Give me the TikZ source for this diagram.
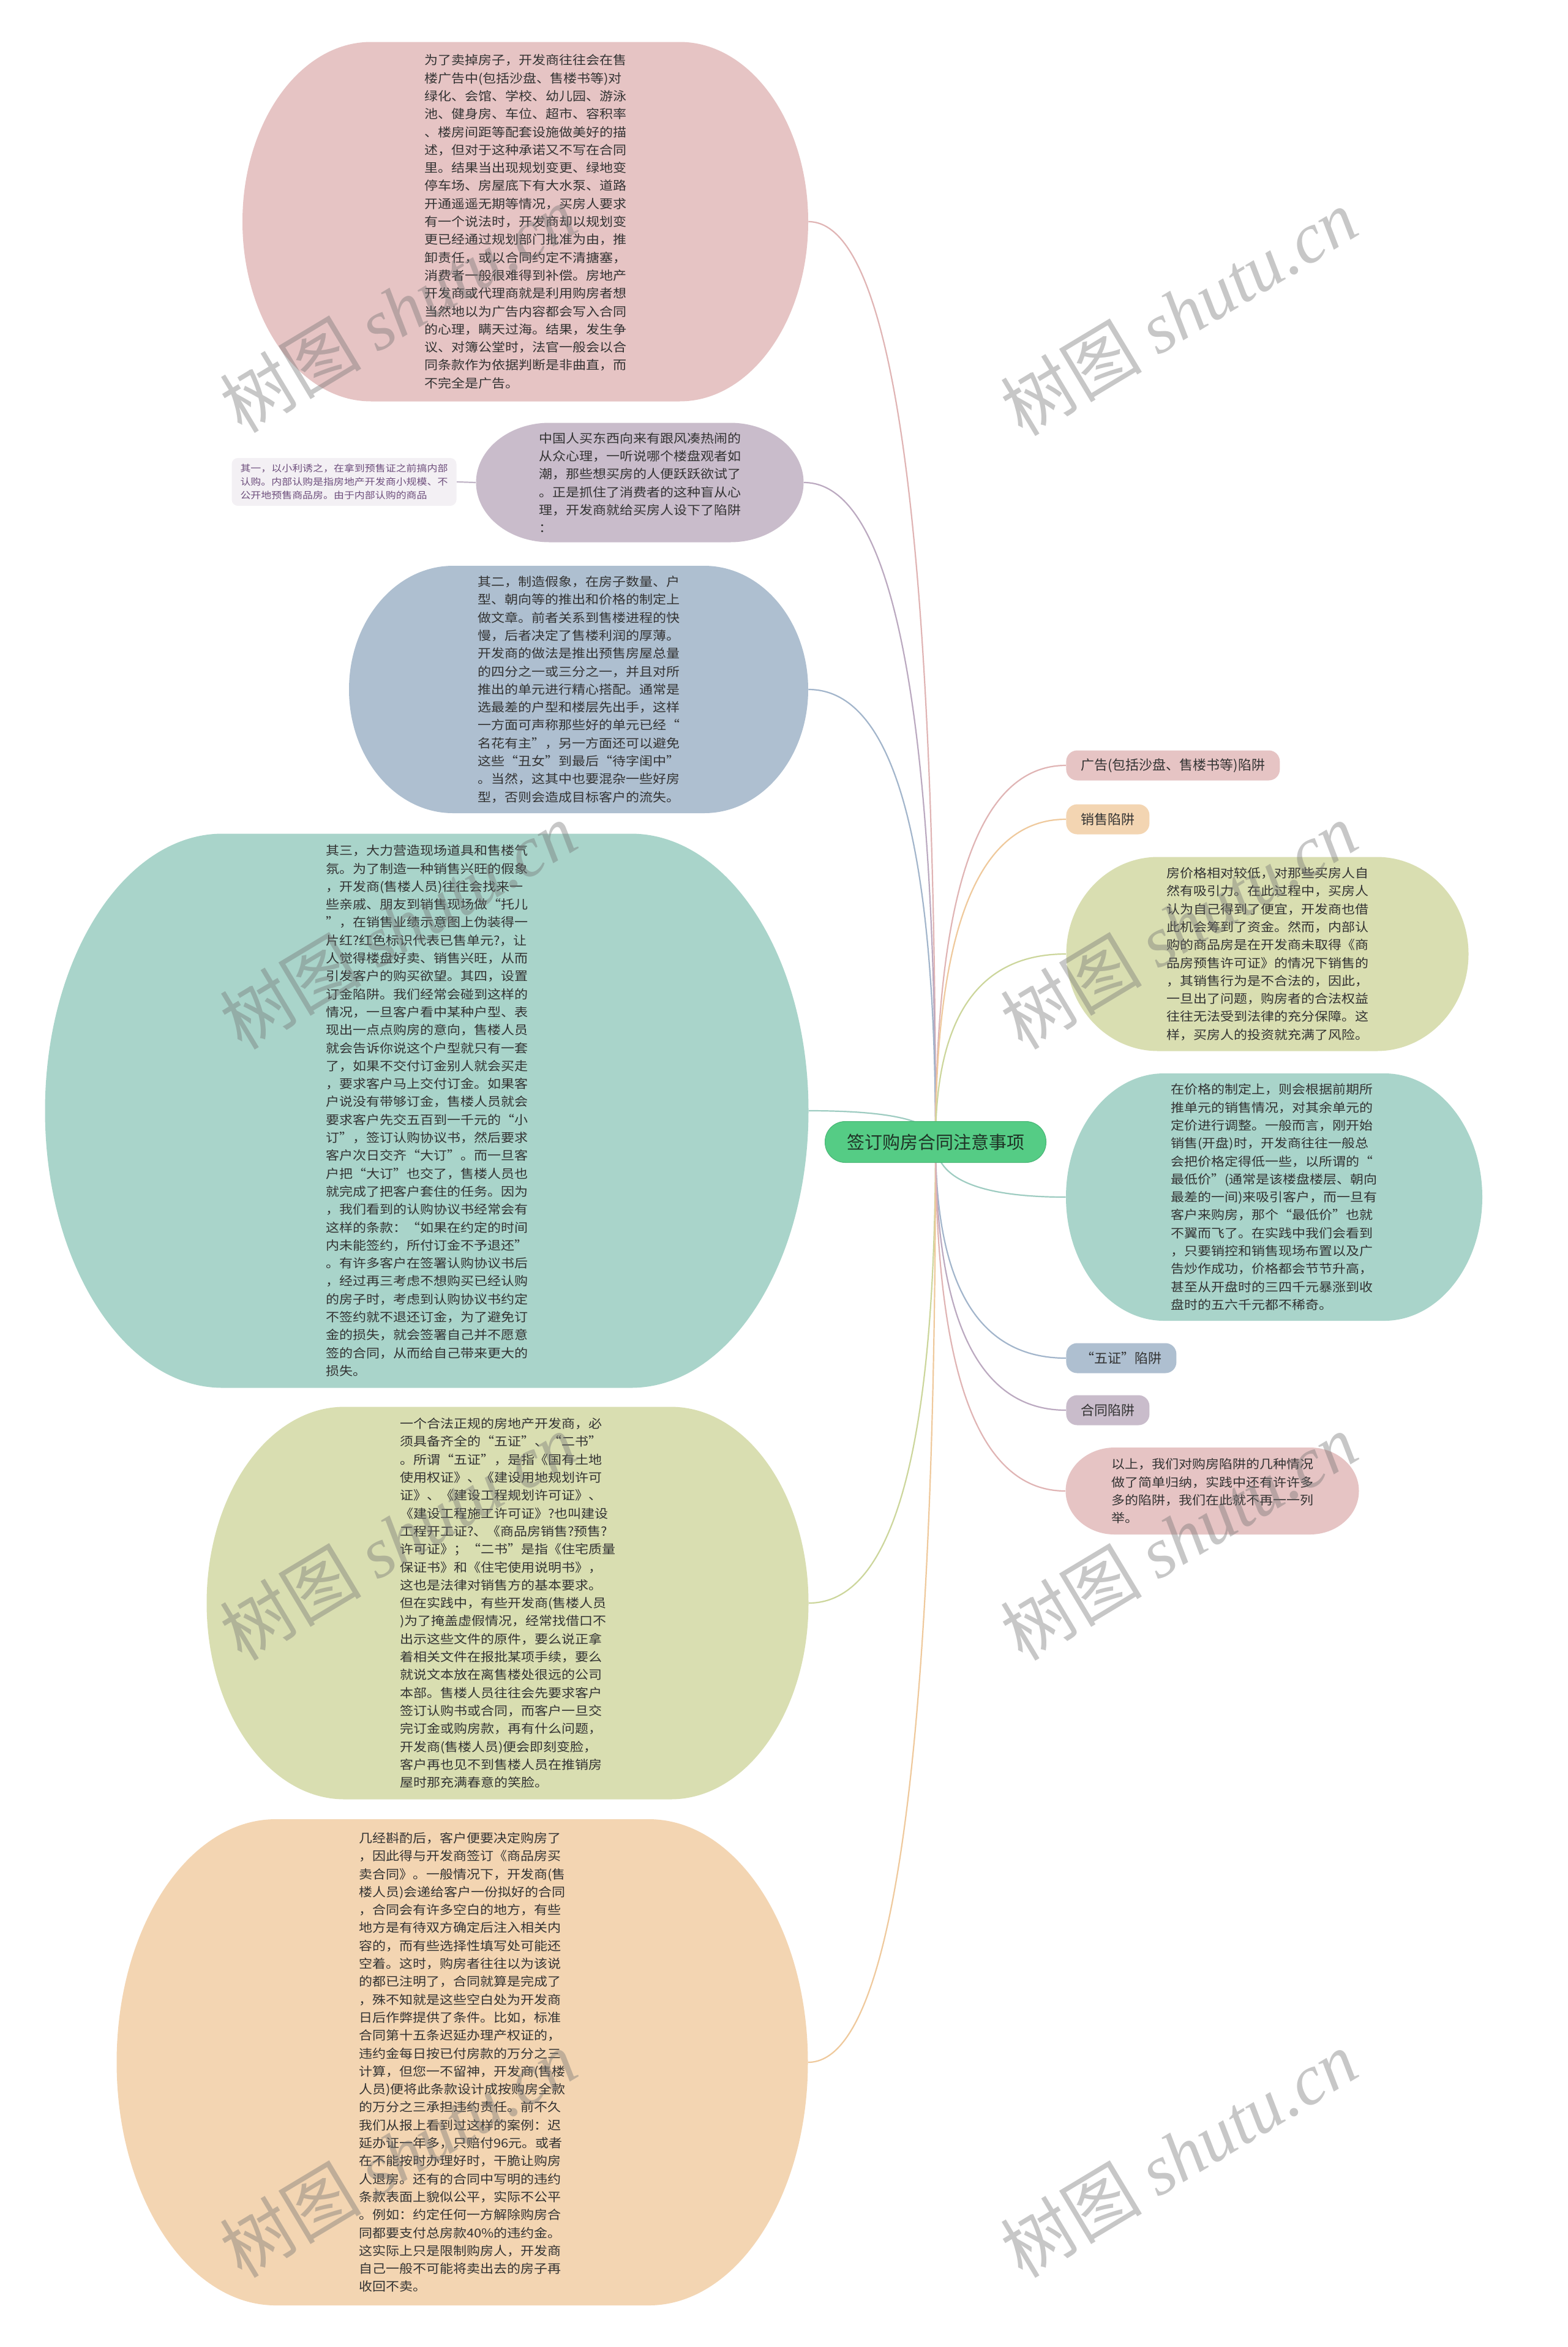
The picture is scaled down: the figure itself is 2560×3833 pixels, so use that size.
\documentclass[tikz,border=0pt]{standalone}
\usepackage{fontspec}
\newfontfamily\cjk{Noto Sans CJK SC}
\newfontfamily\cjkw[FakeStretch=1.1]{Noto Sans CJK SC}
\newfontfamily\cjkn[FakeStretch=1.13]{Noto Sans CJK SC}
\newfontfamily\wmlatin{Liberation Serif}
\usetikzlibrary{calc}
\pgfdeclarelayer{bg}
\pgfsetlayers{bg,main}

\definecolor{pinkF}{HTML}{E6C4C4}
\definecolor{pinkL}{HTML}{E0B4B4}
\definecolor{purpleF}{HTML}{C9BCCB}
\definecolor{purpleL}{HTML}{BBA9C0}
\definecolor{blueF}{HTML}{AEBFD0}
\definecolor{blueL}{HTML}{A2B5CB}
\definecolor{tealF}{HTML}{A9D4CA}
\definecolor{tealL}{HTML}{9ECCC1}
\definecolor{ygF}{HTML}{D9DEB1}
\definecolor{ygL}{HTML}{CCD69B}
\definecolor{orangeF}{HTML}{F3D5B2}
\definecolor{orangeL}{HTML}{EFC99C}
\definecolor{noteF}{HTML}{F3F0F4}
\definecolor{noteT}{HTML}{6E4F7D}
\definecolor{noteL}{HTML}{C2B6C8}
\definecolor{rootF}{HTML}{55CC85}
\definecolor{rootD}{HTML}{47B574}
\definecolor{rootT}{HTML}{1F3326}
\definecolor{txt}{HTML}{333333}

\tikzset{
  body/.style={font={\cjkw\fontsize{10}{14.65}\selectfont}, text=txt, align=left, inner sep=0pt},
  tagbox/.style={font={\cjk\fontsize{11}{13}\selectfont}, text=txt, rounded corners=9pt,
    minimum height=24.5pt, inner xsep=12pt, inner ysep=0pt, anchor=west},
  rootbox/.style={font={\cjk\fontsize{14.5}{17}\selectfont}, text=rootT, fill=rootF, draw=rootD,
    line width=0.5pt, rounded corners=16.5pt, minimum width=180.5pt, minimum height=33.5pt, inner sep=0pt},
  notebox/.style={font={\cjkn\fontsize{7.5}{11}\selectfont}, text=noteT, fill=noteF, rounded corners=5pt,
    minimum width=183.5pt, minimum height=39pt, inner sep=0pt, align=left},
  edge/.style={line width=1.1pt},
  wmark/.style={text=black!55, opacity=0.4, rotate=31, font={\cjk\fontsize{58}{62}\selectfont}, inner sep=0pt}
}

% elliptical-ended rounded box: cx cy w h rx colour
\newcommand\blobat[6]{%
  \fill[#6] ({#1-#3/2+#5},{#2-#4/2}) -- ({#1+#3/2-#5},{#2-#4/2})
    .. controls ({#1+#3/2-#5+0.5523*#5},{#2-#4/2}) and ({#1+#3/2},{#2-0.5523*#4/2}) .. ({#1+#3/2},{#2})
    .. controls ({#1+#3/2},{#2+0.5523*#4/2}) and ({#1+#3/2-#5+0.5523*#5},{#2+#4/2}) .. ({#1+#3/2-#5},{#2+#4/2})
    -- ({#1-#3/2+#5},{#2+#4/2})
    .. controls ({#1-#3/2+#5-0.5523*#5},{#2+#4/2}) and ({#1-#3/2},{#2+0.5523*#4/2}) .. ({#1-#3/2},{#2})
    .. controls ({#1-#3/2},{#2-0.5523*#4/2}) and ({#1-#3/2+#5-0.5523*#5},{#2-#4/2}) .. cycle;}

% name cx cy w h rx colour text
\newcommand\bnode[8]{%
  \begin{pgfonlayer}{bg}\blobat{#2}{#3}{#4}{#5}{#6}{#7}\end{pgfonlayer}%
  \node[body, minimum width={#4*0.5pt}, minimum height={#5*0.5pt}] (#1) at (#2,#3) {#8};}

% curved connector from root to target anchor
\newcommand\link[2]{%
  \draw[edge, #2] let \p1=(root.center), \p2=(#1) in
    (\p1) .. controls (\x1,{\y1+0.6667*(\y2-\y1)}) and ({\x2+0.6667*(\x1-\x2)},\y2) .. (\p2);}

\begin{document}
\begin{tikzpicture}[x=0.5pt,y=-0.5pt]
\begin{pgfonlayer}{bg}
\fill[white] (0,0) rectangle (2560,3833);
\end{pgfonlayer}
\useasboundingbox (0,0) rectangle (2560,3833);

% ---------- left side ----------
\bnode{L1}{858}{362}{924}{587}{210}{pinkF}{%
为了卖掉房子，开发商往往会在售\\
楼广告中(包括沙盘、售楼书等)对\\
绿化、会馆、学校、幼儿园、游泳\\
池、健身房、车位、超市、容积率\\
、楼房间距等配套设施做美好的描\\
述，但对于这种承诺又不写在合同\\
里。结果当出现规划变更、绿地变\\
停车场、房屋底下有大水泵、道路\\
开通遥遥无期等情况，买房人要求\\
有一个说法时，开发商却以规划变\\
更已经通过规划部门批准为由，推\\
卸责任，或以合同约定不清搪塞，\\
消费者一般很难得到补偿。房地产\\
开发商或代理商就是利用购房者想\\
当然地以为广告内容都会写入合同\\
的心理，瞒天过海。结果，发生争\\
议、对簿公堂时，法官一般会以合\\
同条款作为依据判断是非曲直，而\\
不完全是广告。}

\bnode{L2}{1045}{788}{535}{195}{120}{purpleF}{%
中国人买东西向来有跟风凑热闹的\\
从众心理，一听说哪个楼盘观者如\\
潮，那些想买房的人便跃跃欲试了\\
。正是抓住了消费者的这种盲从心\\
理，开发商就给买房人设下了陷阱\\
：}

\node[notebox] (L2a) at (562,787) {%
其一，以小利诱之，在拿到预售证之前搞内部\\
认购。内部认购是指房地产开发商小规模、不\\
公开地预售商品房。由于内部认购的商品};

\bnode{L3}{945}{1126}{750}{404}{170}{blueF}{%
其二，制造假象，在房子数量、户\\
型、朝向等的推出和价格的制定上\\
做文章。前者关系到售楼进程的快\\
慢，后者决定了售楼利润的厚薄。\\
开发商的做法是推出预售房屋总量\\
的四分之一或三分之一，并且对所\\
推出的单元进行精心搭配。通常是\\
选最差的户型和楼层先出手，这样\\
一方面可声称那些好的单元已经“\\
名花有主”，另一方面还可以避免\\
这些“丑女”到最后“待字闺中”\\
。当然，这其中也要混杂一些好房\\
型，否则会造成目标客户的流失。}

\bnode{L4}{697}{1814}{1247}{905}{290}{tealF}{%
其三，大力营造现场道具和售楼气\\
氛。为了制造一种销售兴旺的假象\\
，开发商(售楼人员)往往会找来一\\
些亲戚、朋友到销售现场做“托儿\\
”，在销售业绩示意图上伪装得一\\
片红?红色标识代表已售单元?，让\\
人觉得楼盘好卖、销售兴旺，从而\\
引发客户的购买欲望。其四，设置\\
订金陷阱。我们经常会碰到这样的\\
情况，一旦客户看中某种户型、表\\
现出一点点购房的意向，售楼人员\\
就会告诉你说这个户型就只有一套\\
了，如果不交付订金别人就会买走\\
，要求客户马上交付订金。如果客\\
户说没有带够订金，售楼人员就会\\
要求客户先交五百到一千元的“小\\
订”，签订认购协议书，然后要求\\
客户次日交齐“大订”。而一旦客\\
户把“大订”也交了，售楼人员也\\
就完成了把客户套住的任务。因为\\
，我们看到的认购协议书经常会有\\
这样的条款：“如果在约定的时间\\
内未能签约，所付订金不予退还”\\
。有许多客户在签署认购协议书后\\
，经过再三考虑不想购买已经认购\\
的房子时，考虑到认购协议书约定\\
不签约就不退还订金，为了避免订\\
金的损失，就会签署自己并不愿意\\
签的合同，从而给自己带来更大的\\
损失。}

\bnode{L5}{829}{2618}{983}{641}{225}{ygF}{%
一个合法正规的房地产开发商，必\\
须具备齐全的“五证”、“二书”\\
。所谓“五证”，是指《国有土地\\
使用权证》、《建设用地规划许可\\
证》、《建设工程规划许可证》、\\
《建设工程施工许可证》?也叫建设\\
工程开工证?、《商品房销售?预售?\\
许可证》；“二书”是指《住宅质量\\
保证书》和《住宅使用说明书》，\\
这也是法律对销售方的基本要求。\\
但在实践中，有些开发商(售楼人员\\
)为了掩盖虚假情况，经常找借口不\\
出示这些文件的原件，要么说正拿\\
着相关文件在报批某项手续，要么\\
就说文本放在离售楼处很远的公司\\
本部。售楼人员往往会先要求客户\\
签订认购书或合同，而客户一旦交\\
完订金或购房款，再有什么问题，\\
开发商(售楼人员)便会即刻变脸，\\
客户再也见不到售楼人员在推销房\\
屋时那充满春意的笑脸。}

\bnode{L6}{755}{3368}{1129}{794}{260}{orangeF}{%
几经斟酌后，客户便要决定购房了\\
，因此得与开发商签订《商品房买\\
卖合同》。一般情况下，开发商(售\\
楼人员)会递给客户一份拟好的合同\\
，合同会有许多空白的地方，有些\\
地方是有待双方确定后注入相关内\\
容的，而有些选择性填写处可能还\\
空着。这时，购房者往往以为该说\\
的都已注明了，合同就算是完成了\\
，殊不知就是这些空白处为开发商\\
日后作弊提供了条件。比如，标准\\
合同第十五条迟延办理产权证的，\\
违约金每日按已付房款的万分之三\\
计算，但您一不留神，开发商(售楼\\
人员)便将此条款设计成按购房全款\\
的万分之三承担违约责任。前不久\\
我们从报上看到过这样的案例：迟\\
延办证一年多，只赔付96元。或者\\
在不能按时办理好时，干脆让购房\\
人退房。还有的合同中写明的违约\\
条款表面上貌似公平，实际不公平\\
。例如：约定任何一方解除购房合\\
同都要支付总房款40\%的违约金。\\
这实际上只是限制购房人，开发商\\
自己一般不可能将卖出去的房子再\\
收回不卖。}

% ---------- right side ----------
\node[tagbox, fill=pinkF] (R1) at (1741,1250) {广告(包括沙盘、售楼书等)陷阱};
\node[tagbox, fill=orangeF] (R2) at (1741,1338) {销售陷阱};

\bnode{R3}{2070}{1558}{657}{317}{150}{ygF}{%
房价格相对较低，对那些买房人自\\
然有吸引力。在此过程中，买房人\\
认为自己得到了便宜，开发商也借\\
此机会筹到了资金。然而，内部认\\
购的商品房是在开发商未取得《商\\
品房预售许可证》的情况下销售的\\
，其销售行为是不合法的，因此，\\
一旦出了问题，购房者的合法权益\\
往往无法受到法律的充分保障。这\\
样，买房人的投资就充满了风险。}

\bnode{R4}{2081}{1955}{680}{404}{160}{tealF}{%
在价格的制定上，则会根据前期所\\
推单元的销售情况，对其余单元的\\
定价进行调整。一般而言，刚开始\\
销售(开盘)时，开发商往往一般总\\
会把价格定得低一些，以所谓的“\\
最低价”(通常是该楼盘楼层、朝向\\
最差的一间)来吸引客户，而一旦有\\
客户来购房，那个“最低价”也就\\
不翼而飞了。在实践中我们会看到\\
，只要销控和销售现场布置以及广\\
告炒作成功，价格都会节节升高，\\
甚至从开盘时的三四千元暴涨到收\\
盘时的五六千元都不稀奇。}

\node[tagbox, fill=blueF] (R5) at (1741,2218) {“五证”陷阱};
\node[tagbox, fill=purpleF] (R6) at (1741,2303) {合同陷阱};

\bnode{R7}{1980}{2435}{479}{142}{80}{pinkF}{%
以上，我们对购房陷阱的几种情况\\
做了简单归纳，实践中还有许许多\\
多的陷阱，我们在此就不再一一列\\
举。}

% ---------- root ----------
\node[rootbox] (root) at (1528,1865) {签订购房合同注意事项};

% ---------- connectors ----------
\begin{pgfonlayer}{bg}
\link{L1.east}{pinkL}
\link{L2.east}{purpleL}
\link{L3.east}{blueL}
\link{L4.east}{tealL}
\link{L5.east}{ygL}
\link{L6.east}{orangeL}
\link{R1.west}{pinkL}
\link{R2.west}{orangeL}
\link{R3.west}{ygL}
\link{R4.west}{tealL}
\link{R5.west}{blueL}
\link{R6.west}{purpleL}
\link{R7.west}{pinkL}
\draw[edge, noteL] (L2.west) -- (L2a.east);
\end{pgfonlayer}

% ---------- watermarks ----------
\node[wmark] (wm1) at (650,505) {树图 {\wmlatin\itshape shutu.cn}};
\node[wmark] (wm2) at (1925,510) {树图 {\wmlatin\itshape shutu.cn}};
\node[wmark] (wm3) at (650,1512) {树图 {\wmlatin\itshape shutu.cn}};
\node[wmark] (wm4) at (1925,1512) {树图 {\wmlatin\itshape shutu.cn}};
\node[wmark] (wm5) at (650,2510) {树图 {\wmlatin\itshape shutu.cn}};
\node[wmark] (wm6) at (1925,2510) {树图 {\wmlatin\itshape shutu.cn}};
\node[wmark] (wm7) at (650,3518) {树图 {\wmlatin\itshape shutu.cn}};
\node[wmark] (wm8) at (1925,3518) {树图 {\wmlatin\itshape shutu.cn}};
\end{tikzpicture}
\end{document}
